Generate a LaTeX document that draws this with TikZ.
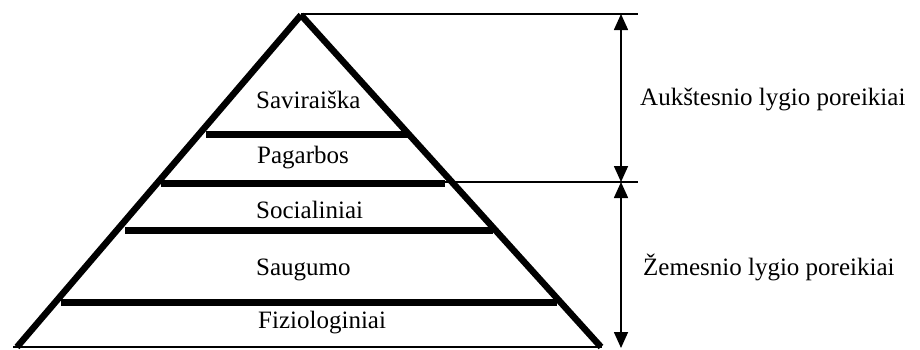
\documentclass[tikz,border=0pt]{standalone}
\usepackage{fontspec}
\setmainfont{Liberation Serif}
\usetikzlibrary{arrows.meta}
\begin{document}
\begin{tikzpicture}[x=1pt,y=-1pt,
  side/.style={line width=6.5pt},
  bar/.style={line width=7pt},
  base/.style={line width=2pt},
  thin/.style={line width=1.6pt},
  dim/.style={line width=1.6pt, {Triangle[length=16pt,width=14pt]}-{Triangle[length=16pt,width=14pt]}},
  lbl/.style={anchor=base west, inner sep=0pt, font=\fontsize{25}{29}\selectfont}]
\useasboundingbox (0,0) rectangle (920,349);
% pyramid corners
\coordinate (apex) at (301,15);
\coordinate (bl) at (17,347);
\coordinate (br) at (601,347);
\coordinate (basel) at (13,347);
\coordinate (baser) at (602,347);
% bars
\coordinate (b1l) at (206,134); \coordinate (b1r) at (410,134);
\coordinate (b2l) at (161,183); \coordinate (b2r) at (445,183);
\coordinate (b3l) at (125,230); \coordinate (b3r) at (493,230);
\coordinate (b4l) at (61,302);  \coordinate (b4r) at (557,302);
% dimension lines
\coordinate (topl) at (301,14); \coordinate (topr) at (638,14);
\coordinate (midl) at (445,182); \coordinate (midr) at (638,182);
\coordinate (a1) at (621,14); \coordinate (a2) at (621,182); \coordinate (a3) at (621,348);

\draw[side] (apex) -- (bl);
\draw[side] (apex) -- (br);
\draw[base] (basel) -- (baser);
\draw[bar] (b1l) -- (b1r);
\draw[bar] (b2l) -- (b2r);
\draw[bar] (b3l) -- (b3r);
\draw[bar] (b4l) -- (b4r);
\draw[thin] (topl) -- (topr);
\draw[thin] (midl) -- (midr);
\draw[dim] (a1) -- (a2);
\draw[dim] (a2) -- (a3);

\node[lbl] (s1) at (256,108) {Saviraiška};
\node[lbl] (s2) at (257,163) {Pagarbos};
\node[lbl] (s3) at (256,218) {Socialiniai};
\node[lbl] (s4) at (256,275) {Saugumo};
\node[lbl] (s5) at (258,328) {Fiziologiniai};
\node[lbl] (hi) at (640,105) {Aukštesnio lygio poreikiai};
\node[lbl] (lo) at (643,275) {Žemesnio lygio poreikiai};
\end{tikzpicture}
\end{document}
